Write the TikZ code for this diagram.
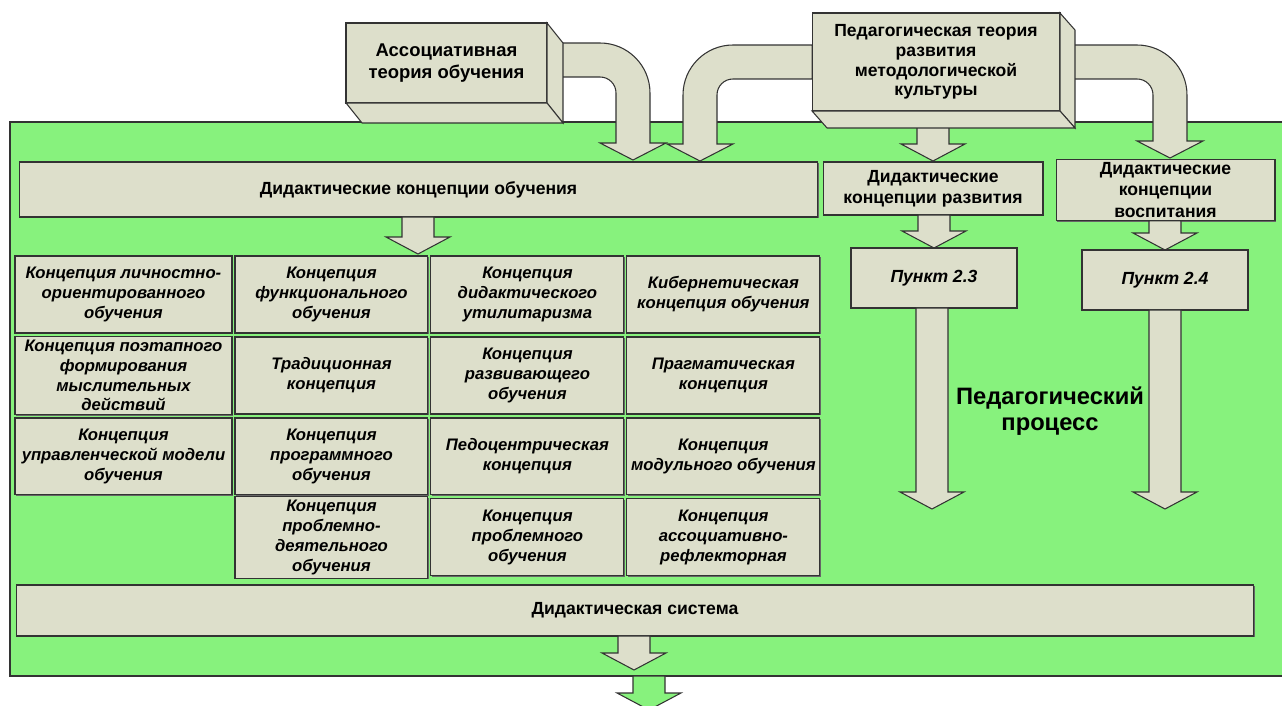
\documentclass[tikz,border=0pt]{standalone}
\usepackage{fontspec}
\setmainfont{Liberation Sans}
\usetikzlibrary{positioning,calc,shadows}

\definecolor{boxfill}{RGB}{221,223,203}
\definecolor{greenbg}{RGB}{135,242,125}

% straight block arrow: start (only its y is used), tip
\newcommand{\blockdown}[3][]{%
  \filldraw[arrowfill,#1] let \p1=#2, \p2=#3 in
    (\x2-0.32cm,\y1) -- (\x2-0.32cm,\y2+0.34cm) -- (\x2-0.64cm,\y2+0.34cm) -- (\x2,\y2)
    -- (\x2+0.64cm,\y2+0.34cm) -- (\x2+0.32cm,\y2+0.34cm) -- (\x2+0.32cm,\y1) -- cycle;}
% bent block arrow: start, tip, side (1 = to the right, -1 = to the left)
\newcommand{\bendarrow}[3]{%
  \filldraw[arrowfill] let \p1=#1, \p2=#2 in
    (\x1,\y1+0.34cm) -- ({\x2+#3*0.34cm-#3*1cm},{\y1+0.34cm})
    .. controls +({#3*0.552cm},0pt) and +(0pt,0.552cm) .. ({\x2+#3*0.34cm},{\y1-0.66cm})
    -- ({\x2+#3*0.34cm},{\y2+0.34cm}) -- ({\x2+#3*0.66cm},{\y2+0.34cm}) -- (\x2,\y2)
    -- ({\x2-#3*0.66cm},{\y2+0.34cm}) -- ({\x2-#3*0.34cm},{\y2+0.34cm})
    -- ({\x2-#3*0.34cm},{\y1-0.66cm})
    .. controls +(0pt,0.177cm) and +({#3*0.177cm},0pt) .. ({\x2-#3*0.66cm},{\y1-0.34cm})
    -- (\x1,\y1-0.34cm) -- cycle;}
% side faces of a raised box
\newcommand{\boxfaces}[3]{%
  \filldraw[arrowfill] (#1.north east) -- ++(#2,#3) -- ($(#1.south east)+(#2,#3)$) -- (#1.south east) -- cycle;
  \filldraw[arrowfill] (#1.south west) -- ++(#2,#3) -- ($(#1.south east)+(#2,#3)$) -- (#1.south east) -- cycle;}

\begin{document}
\begin{tikzpicture}[x=0.02cm,y=-0.02cm,node distance=1.62cm and 3.92cm,on grid,
  arrowfill/.style={draw=black!80,fill=boxfill,line width=0.6pt},
  box/.style={draw=black!80,fill=boxfill,line width=0.6pt,inner sep=2pt,outer sep=0pt,align=center,
    font=\bfseries\fontsize{10}{12}\selectfont},
  flat/.style={box,drop shadow={shadow xshift=0.7pt,shadow yshift=-0.7pt,fill=black!60,opacity=1}},
  cell/.style={flat,minimum width=3.86cm,minimum height=1.54cm,
    font=\bfseries\itshape\fontsize{9.5}{11.3}\selectfont},
  wide/.style={cell,minimum width=4.34cm}]
\useasboundingbox (0,0) rectangle (1282,706);

\fill[greenbg] (10,122) rectangle (1282,676);
\draw[black!80,line width=0.6pt] (1282,122) -- (10,122) -- (10,676) -- (1282,676);

\node[box,minimum width=4.02cm,minimum height=1.6cm,font=\bfseries\fontsize{10.5}{12.5}\selectfont] (assoc) at (446.5,63)
  {Ассоциативная\\теория обучения};
\node[box,minimum width=4.96cm,minimum height=1.96cm,font=\bfseries\fontsize{10}{11.3}\selectfont] (peda) at (936,62)
  {Педагогическая теория\\развития\\методологической\\культуры};

\coordinate (tipA) at (633,160);
\coordinate (tipB) at (700,161);
\coordinate (tipC) at (1170,158);
\bendarrow{([yshift=0.06cm]assoc.east)}{(tipA)}{1}
\bendarrow{(peda.west)}{(tipB)}{-1}
\bendarrow{(peda.east)}{(tipC)}{1}
\blockdown{(peda.south)}{(933,161)}

% raised boxes on top of the arrows
\node[box,minimum width=4.02cm,minimum height=1.6cm,font=\bfseries\fontsize{10.5}{12.5}\selectfont] at (assoc)
  {Ассоциативная\\теория обучения};
\boxfaces{assoc}{16}{20}
\node[box,minimum width=4.96cm,minimum height=1.96cm,font=\bfseries\fontsize{10}{11.3}\selectfont] at (peda)
  {Педагогическая теория\\развития\\методологической\\культуры};
\boxfaces{peda}{15}{17}

\node[flat,minimum width=15.98cm,minimum height=1.1cm] (obuch) at (418.5,189.5) {Дидактические концепции обучения};
\node[flat,minimum width=4.4cm,minimum height=1.06cm] (razv) at (933,188.5) {Дидактические\\концепции развития};
\node[flat,minimum width=4.38cm,minimum height=1.12cm] (vosp) at (1165.5,190) {Дидактические\\концепции\\воспитания};

\coordinate (tipO) at (418,254);
\blockdown{(obuch.south)}{(tipO)}
\blockdown{(razv.south)}{(934,248)}
\blockdown{(vosp.south)}{(1165,250)}

\node[flat,minimum width=3.32cm,minimum height=1.2cm,font=\bfseries\itshape\fontsize{10}{12}\selectfont] (p23) at (934,278) {Пункт 2.3};
\node[flat,minimum width=3.32cm,minimum height=1.2cm,font=\bfseries\itshape\fontsize{10}{12}\selectfont] (p24) at (1165,280) {Пункт 2.4};

\coordinate (tip23) at (932,509);
\coordinate (tip24) at (1165,509);
\blockdown{(p23.south)}{(tip23)}
\blockdown{(p24.south)}{(tip24)}

\node[font=\bfseries\fontsize{13.5}{14.5}\selectfont,align=center] (proc) at (1050,411) {Педагогический\\процесс};

% concepts grid
\node[wide] (c11) at (123.5,294.5) {Концепция личностно-\\ориентированного\\обучения};
\node[cell] (c12) [right=4.16cm of c11] {Концепция\\функционального\\обучения};
\node[cell] (c13) [right=of c12] {Концепция\\дидактического\\утилитаризма};
\node[cell] (c14) [right=of c13] {Кибернетическая\\концепция обучения};
\node[wide] (c21) [below=of c11] {Концепция поэтапного\\формирования\\мыслительных\\действий};
\node[cell] (c22) [below=of c12] {Традиционная\\концепция};
\node[cell] (c23) [below=of c13] {Концепция\\развивающего\\обучения};
\node[cell] (c24) [below=of c14] {Прагматическая\\концепция};
\node[wide] (c31) [below=of c21] {Концепция\\управленческой модели\\обучения};
\node[cell] (c32) [below=of c22] {Концепция\\программного\\обучения};
\node[cell] (c33) [below=of c23] {Педоцентрическая\\концепция};
\node[cell] (c34) [below=of c24] {Концепция\\модульного обучения};
\node[cell] (c42) [below=of c32] {Концепция\\проблемно-\\деятельного\\обучения};
\node[cell] (c43) [below=of c33] {Концепция\\проблемного\\обучения};
\node[cell] (c44) [below=of c34] {Концепция\\ассоциативно-\\рефлекторная};

\node[flat,minimum width=24.76cm,minimum height=1.02cm] (sys) at (635,610.5) {Дидактическая система};

\coordinate (tipS) at (634,670);
\coordinate (out) at (649,676);
\coordinate (tipOut) at (649,710);
\blockdown{(sys.south)}{(tipS)}
\blockdown[fill=greenbg]{(out)}{(tipOut)}
\end{tikzpicture}
\end{document}
